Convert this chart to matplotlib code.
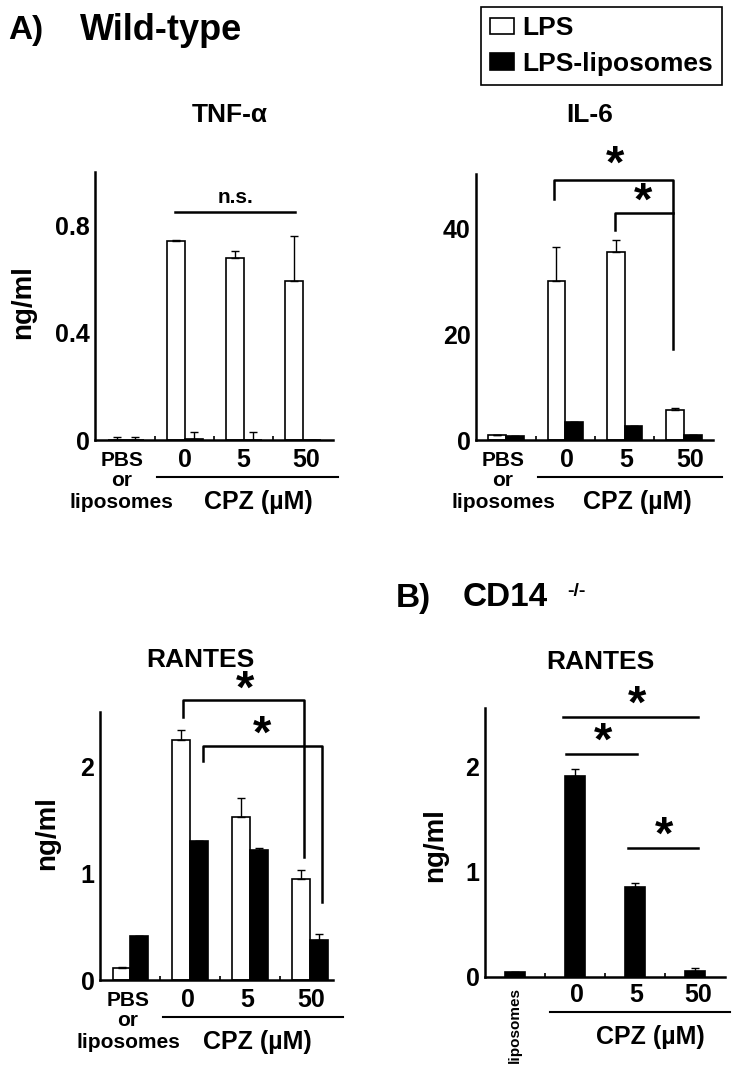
import matplotlib
matplotlib.use("Agg")
import matplotlib.pyplot as plt
import matplotlib.transforms as mtrans
import numpy as np

plt.rcParams['font.family'] = ['Liberation Sans', 'DejaVu Sans']
plt.rcParams['font.weight'] = 'bold'

# ---------------- data ----------------
tnf_lps = [0.0, 0.741, 0.679, 0.592]
tnf_lps_err = [0.012, 0.004, 0.027, 0.168]
tnf_lip = [0.0, 0.005, 0.0, 0.0]
tnf_lip_err = [0.012, 0.024, 0.030, 0.0]

il6_lps = [1.0, 30.1, 35.7, 5.7]
il6_lps_err = [0.0, 6.5, 2.2, 0.3]
il6_lip = [0.8, 3.5, 2.6, 0.95]
il6_lip_err = [0.0, 0.0, 0.0, 0.0]

ran_lps = [0.115, 2.25, 1.53, 0.95]
ran_lps_err = [0.01, 0.09, 0.17, 0.08]
ran_lip = [0.41, 1.305, 1.22, 0.375]
ran_lip_err = [0.0, 0.0, 0.02, 0.055]

cd14_lip = [0.045, 1.91, 0.855, 0.057]
cd14_lip_err = [0.0, 0.06, 0.038, 0.025]

cpz_labels = ['0', '5', '50']
series_labels = ['LPS', 'LPS-liposomes']

W, H = 739, 1090
fig = plt.figure(figsize=(W / 100, H / 100), dpi=100)

TICK_FS = 18
NUM_FS = 18
PBS_FS = 15
CPZ_FS = 18
TITLE_FS = 19
YLAB_FS = 20
STAR_FS = 34


def add_ax(x0, x1, y0, y1):
    return fig.add_axes([x0 / W, 1 - y1 / H, (x1 - x0) / W, (y1 - y0) / H])


def style(ax, xlim, ylim, yticks, yticklabels):
    ax.set_xlim(*xlim)
    ax.set_ylim(*ylim)
    for s in ['top', 'right']:
        ax.spines[s].set_visible(False)
    for s in ['left', 'bottom']:
        ax.spines[s].set_linewidth(1.8)
    ax.set_yticks(yticks)
    ax.set_yticklabels(yticklabels, fontsize=TICK_FS, fontweight='bold')
    ax.tick_params(axis='y', length=0, pad=4)
    ax.set_xticks([0.5, 1.5, 2.5])
    ax.set_xticklabels([])
    ax.tick_params(axis='x', direction='in', length=3, width=1.2)


def below(ax, px):
    h = ax.get_position().height * H
    return -px / h


def xlabels(ax, xs_num, line_x, cpz_x, pbs_x, pbs=True, off=0):
    tr = mtrans.blended_transform_factory(ax.transData, ax.transAxes)
    for x, t in zip(xs_num, cpz_labels):
        ax.text(x, below(ax, 20 + off), t, transform=tr, ha='center', va='center',
                fontsize=NUM_FS, fontweight='bold')
    ax.plot(line_x, [below(ax, 37 + off)] * 2, transform=tr, color='black', lw=1.5,
            clip_on=False)
    ax.text(cpz_x, below(ax, 62 + off), 'CPZ (\u00b5M)', transform=tr, ha='center',
            va='center', fontsize=CPZ_FS, fontweight='bold')
    if pbs:
        ax.text(pbs_x, below(ax, 20), 'PBS', transform=tr, ha='center', va='center',
                fontsize=PBS_FS, fontweight='bold')
        ax.text(pbs_x, below(ax, 41), 'or', transform=tr, ha='center', va='center',
                fontsize=PBS_FS, fontweight='bold')
        ax.text(pbs_x, below(ax, 62), 'liposomes', transform=tr, ha='center',
                va='center', fontsize=PBS_FS, fontweight='bold')


x = np.arange(4)
bw = 0.3
ekw = dict(elinewidth=1.0, capthick=1.0)


def pair_bars(ax, lps, lps_err, lip, lip_err, label=False):
    b1 = ax.bar(x - bw / 2, lps, bw, color='white', edgecolor='black', linewidth=1.2,
                yerr=[np.zeros(4), lps_err], capsize=3, error_kw=ekw,
                label=series_labels[0] if label else None)
    b2 = ax.bar(x + bw / 2, lip, bw, color='black', edgecolor='black', linewidth=1.2,
                yerr=[np.zeros(4), lip_err], capsize=3, error_kw=ekw,
                label=series_labels[1] if label else None)
    return b1, b2


def star(ax, xx, yy):
    ax.text(xx, yy, '*', ha='center', va='center', fontsize=STAR_FS,
            fontweight='bold', clip_on=False)


# ---------------- TNF-alpha ----------------
ax1 = add_ax(95, 333, 172, 440)
pair_bars(ax1, tnf_lps, tnf_lps_err, tnf_lip, tnf_lip_err, label=True)
style(ax1, (-0.525, 3.51), (0, 1.0), [0, 0.4, 0.8], ['0', '0.4', '0.8'])
ax1.plot([0.83, 2.86], [0.85, 0.85], color='black', lw=1.8, clip_on=False)
ax1.text(1.85, 0.905, 'n.s.', ha='center', va='center', fontsize=15, fontweight='bold')
xlabels(ax1, [1.0, 1.98, 3.05], [0.525, 3.59], 2.24, -0.07)

# ---------------- IL-6 ----------------
ax2 = add_ax(476, 713, 174, 440)
pair_bars(ax2, il6_lps, il6_lps_err, il6_lip, il6_lip_err)
style(ax2, (-0.506, 3.49), (0, 50.4), [0, 20, 40], ['0', '20', '40'])
ax2.plot([0.81, 0.81, 2.82, 2.82], [45.7, 49.2, 49.2, 17.3], color='black', lw=1.8,
         clip_on=False)
ax2.plot([1.84, 1.84, 2.82], [39.8, 43.0, 43.0], color='black', lw=1.8, clip_on=False)
star(ax2, 1.84, 52.0)
star(ax2, 2.31, 45.0)
xlabels(ax2, [1.03, 2.02, 3.1], [0.54, 3.64], 2.21, -0.05)

# ---------------- RANTES (wild-type) ----------------
ax3 = add_ax(100, 333, 712, 980)
pair_bars(ax3, ran_lps, ran_lps_err, ran_lip, ran_lip_err)
style(ax3, (-0.51, 3.39), (0, 2.51), [0, 1, 2], ['0', '1', '2'])
ax3.plot([0.88, 0.88, 2.90, 2.90], [2.46, 2.62, 2.62, 1.15], color='black', lw=1.8,
         clip_on=False)
ax3.plot([1.21, 1.21, 3.20, 3.20], [2.05, 2.19, 2.19, 0.73], color='black', lw=1.8,
         clip_on=False)
star(ax3, 1.91, 2.71)
star(ax3, 2.21, 2.29)
xlabels(ax3, [0.96, 1.95, 3.03], [0.54, 3.55], 2.13, -0.04)

# ---------------- RANTES (CD14-/-) ----------------
ax4 = add_ax(485, 725, 708, 977)
ax4.bar(x, cd14_lip, 0.32, color='black', edgecolor='black', linewidth=1.2,
        yerr=[np.zeros(4), cd14_lip_err], capsize=3, error_kw=ekw)
style(ax4, (-0.5, 3.5), (0, 2.55), [0, 1, 2], ['0', '1', '2'])
ax4.plot([0.80, 3.05], [2.46, 2.46], color='black', lw=1.8, clip_on=False)
ax4.plot([0.85, 2.03], [2.11, 2.11], color='black', lw=1.8, clip_on=False)
ax4.plot([1.88, 3.05], [1.22, 1.22], color='black', lw=1.8, clip_on=False)
star(ax4, 2.03, 2.57)
star(ax4, 1.47, 2.22)
star(ax4, 2.48, 1.33)
xlabels(ax4, [1.03, 2.02, 3.05], [0.58, 3.58], 2.25, 0, pbs=False, off=-2)
tr4 = mtrans.blended_transform_factory(ax4.transData, ax4.transAxes)
ax4.text(0, below(ax4, 10), 'liposomes', transform=tr4, rotation=90, ha='center',
         va='top', fontsize=11, fontweight='bold')

# ---------------- titles / labels ----------------
def ftext(px, py, s, **kw):
    fig.text(px / W, 1 - py / H, s, **kw)

ftext(230, 115, 'TNF-\u03b1', ha='center', va='center', fontsize=TITLE_FS, fontweight='bold')
ftext(590, 115, 'IL-6', ha='center', va='center', fontsize=TITLE_FS, fontweight='bold')
ftext(200, 660, 'RANTES', ha='center', va='center', fontsize=TITLE_FS, fontweight='bold')
ftext(600, 662, 'RANTES', ha='center', va='center', fontsize=TITLE_FS, fontweight='bold')
ftext(23, 302, 'ng/ml', ha='center', va='center', rotation=90, fontsize=YLAB_FS,
      fontweight='bold')
ftext(47, 833, 'ng/ml', ha='center', va='center', rotation=90, fontsize=YLAB_FS,
      fontweight='bold')
ftext(435, 845, 'ng/ml', ha='center', va='center', rotation=90, fontsize=YLAB_FS,
      fontweight='bold')

ftext(8, 30, 'A)', ha='left', va='center', fontsize=24, fontweight='bold')
ftext(80, 30, 'Wild-type', ha='left', va='center', fontsize=26, fontweight='bold')
ftext(396, 598, 'B)', ha='left', va='center', fontsize=24, fontweight='bold')
ftext(463, 598, 'CD14', ha='left', va='center', fontsize=24, fontweight='bold')
ftext(567, 591, '-/-', ha='left', va='center', fontsize=14, fontweight='bold')

# ---------------- legend ----------------
h, l = ax1.get_legend_handles_labels()
leg = fig.legend(h, l, loc='upper right', bbox_to_anchor=(722 / W, 1 - 7 / H),
                 frameon=True, fancybox=False, edgecolor='black', framealpha=1,
                 prop={'size': 19, 'weight': 'bold'}, handlelength=0.9,
                 handleheight=0.6, handletextpad=0.3, borderpad=0.35,
                 labelspacing=0.45, borderaxespad=0)
leg.get_frame().set_linewidth(1.2)

fig.savefig('out.png', dpi=100)
